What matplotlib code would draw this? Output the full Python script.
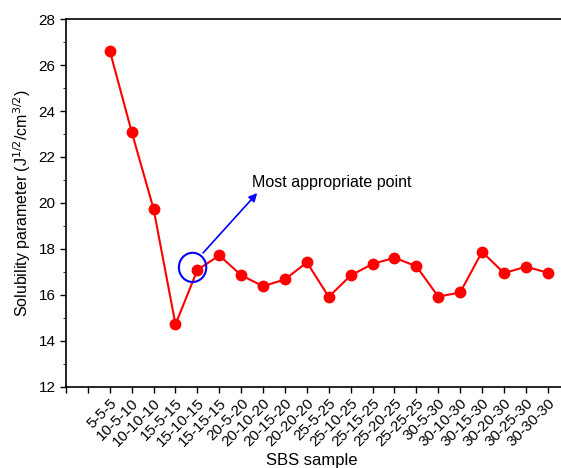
import matplotlib
matplotlib.use("Agg")
import matplotlib.pyplot as plt
from matplotlib.patches import Ellipse
from matplotlib.ticker import MultipleLocator

plt.rcParams['font.family'] = ['Liberation Sans', 'DejaVu Sans']

samples = ["5-5-5", "10-5-10", "10-10-10", "15-5-15", "15-10-15", "15-15-15",
           "20-5-20", "20-10-20", "20-15-20", "20-20-20", "25-5-25", "25-10-25",
           "25-15-25", "25-20-25", "25-25-25", "30-5-30", "30-10-30", "30-15-30",
           "30-20-30", "30-25-30", "30-30-30"]
solubility = [26.62, 23.09, 19.74, 14.72, 17.09, 17.72, 16.86, 16.38, 16.68, 17.42,
              15.92, 16.85, 17.35, 17.62, 17.25, 15.93, 16.11, 17.88, 16.95, 17.23, 16.97]
best_idx = 4

fig = plt.figure(figsize=(5.61, 4.68), dpi=100)
ax = fig.add_axes([66/561, 81/468, 496/561, 368/468])

x = list(range(len(samples)))
ax.plot(x, solubility, color="red", linewidth=1.5, marker="o", markersize=7.5, zorder=5)

ax.set_xlim(-2, 20.65)
ax.set_ylim(12, 28)
ax.set_xticks(list(range(-2, len(samples))))
ax.set_xticklabels(["", ""] + samples, rotation=45, ha="right", rotation_mode="anchor", fontsize=11)
ax.yaxis.set_major_locator(MultipleLocator(2))
ax.yaxis.set_minor_locator(MultipleLocator(1))
ax.tick_params(axis="both", direction="out", width=1)
ax.tick_params(axis="y", labelsize=11)
ax.tick_params(axis="y", which="major", length=4)
ax.tick_params(axis="y", which="minor", length=2.5)
ax.tick_params(axis="x", length=4.5, pad=2)
for s in ax.spines.values():
    s.set_linewidth(1.2)
ax.spines["right"].set_visible(False)

ax.set_ylabel("Solubility parameter (J$^{1/2}$/cm$^{3/2}$)", fontsize=11.5, labelpad=4)
fig.text(312/561, 1 - 461/468, "SBS sample", ha="center", va="center", fontsize=12)

# highlight most appropriate point
ax.add_patch(Ellipse((best_idx - 0.22, solubility[best_idx] + 0.11), 1.25, 1.27,
                     fill=False, edgecolor="blue", linewidth=1.5, zorder=6))
ax.annotate("", xy=(6.73, 20.43), xytext=(4.26, 17.83),
            arrowprops=dict(arrowstyle="-|>", color="blue", lw=1.2, mutation_scale=12,
                            shrinkA=0, shrinkB=0))
ax.text(6.5, 20.87, "Most appropriate point", fontsize=11.5, va="center", ha="left")

fig.savefig("out.png", dpi=100)
